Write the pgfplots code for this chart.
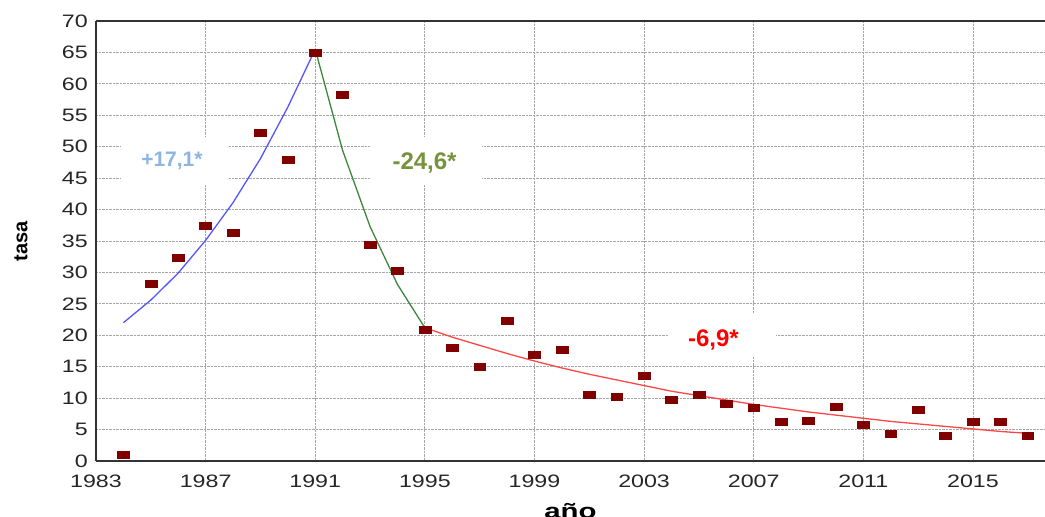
\documentclass[border=0pt]{standalone}
\usepackage{pgfplots}
\pgfplotsset{compat=1.18}
\usepackage{fontspec}
\setmainfont{Liberation Sans}
\newfontfamily\tickfont[FakeStretch=1.29]{Liberation Sans}
\newfontfamily\labfont[FakeStretch=1.4]{Liberation Sans}
\definecolor{markred}{RGB}{128,0,0}
\definecolor{lblue}{RGB}{142,180,227}
\definecolor{lgreen}{RGB}{118,146,60}
\definecolor{lineblue}{RGB}{85,85,255}
\definecolor{linegreen}{RGB}{60,135,60}
\definecolor{linered}{RGB}{255,70,70}
\begin{document}
\begin{tikzpicture}
\begin{axis}[
    scale only axis,
    width=949pt, height=440pt,
    xmin=1983, xmax=2017.63,
    ymin=0, ymax=70,
    xtick={1983,1987,...,2015},
    ytick={0,5,...,70},
    axis x line*=bottom, axis y line*=left,
    separate axis lines,
    axis line style={draw=black!80, line width=1.6pt, -},
    major tick length=0pt,
    grid=major,
    grid style={gray!70, densely dotted, line width=0.8pt},
    /pgf/number format/assume math mode=true,
    /pgf/number format/1000 sep={},
    tick label style={font=\tickfont\fontsize{18}{18}\selectfont, text=black!85, inner sep=0pt},
    xticklabel style={anchor=center, yshift=-20pt},
    yticklabel style={anchor=east, xshift=-8pt},
    xlabel={año}, ylabel={tasa},
    xlabel style={font=\labfont\bfseries\fontsize{21}{21}\selectfont,
        at={(axis description cs:0.5,0)}, anchor=center, yshift=-50pt},
    ylabel style={font=\bfseries\fontsize{20}{20}\selectfont,
        at={(axis description cs:0,0.5)}, anchor=center, yshift=75pt},
    clip=false,
]
% top border
\draw[black!80, line width=1.6pt] (axis cs:1983,70) -- (axis cs:2017.63,70);
% fitted segments
\addplot[lineblue, line width=1.3pt] coordinates {
(1984,22.0)(1985,25.6)(1986,29.9)(1987,35.1)(1988,41.1)(1989,48.1)(1990,56.3)(1991,65.5)};
\addplot[linegreen, line width=1.3pt] coordinates {
(1991,65.5)(1992,49.4)(1993,37.3)(1994,28.1)(1995,21.2)};
\addplot[linered, line width=1.3pt] coordinates {
(1995,21.2)(1996,19.7)(1997,18.4)(1998,17.1)(1999,15.9)(2000,14.8)(2001,13.8)
(2002,12.9)(2003,12.0)(2004,11.1)(2005,10.4)(2006,9.7)(2007,9.0)(2008,8.4)
(2009,7.8)(2010,7.3)(2011,6.8)(2012,6.3)(2013,5.9)(2014,5.5)(2015,5.1)
(2016,4.7)(2017,4.4)};
% observed rates
\addplot[only marks, mark=square*, mark size=3.5pt,
    mark options={xscale=1.7, fill=markred, draw=markred}] coordinates {
(1984,1.0)(1985,28.2)(1986,32.3)(1987,37.5)(1988,36.3)(1989,52.2)(1990,48.0)
(1991,65.0)(1992,58.2)(1993,34.4)(1994,30.3)(1995,20.9)(1996,18.0)(1997,15.0)
(1998,22.3)(1999,16.9)(2000,17.7)(2001,10.6)(2002,10.2)(2003,13.6)(2004,9.8)
(2005,10.5)(2006,9.1)(2007,8.5)(2008,6.3)(2009,6.4)(2010,8.6)(2011,5.8)
(2012,4.3)(2013,8.2)(2014,4.0)(2015,6.3)(2016,6.3)(2017,4.1)};
% white boxes behind the labels
\path[fill=white] (axis cs:1985.88,47.7) +(-54pt,-24pt) rectangle +(54pt,24pt);
\path[fill=white] (axis cs:1995.06,47.7) +(-56pt,-24pt) rectangle +(56pt,24pt);
\path[fill=white] (axis cs:2005.86,19.97) +(-54pt,-22pt) rectangle +(54pt,22pt);
% annual percent change labels
\node[text=lblue, font=\bfseries\fontsize{21}{21}\selectfont]
    at (axis cs:1985.77,47.7) {+17,1*};
\node[text=lgreen, font=\bfseries\fontsize{24}{24}\selectfont]
    at (axis cs:1994.99,47.4) {-24,6*};
\node[text=red, font=\bfseries\fontsize{24}{24}\selectfont]
    at (axis cs:2005.53,19.25) {-6,9*};
\end{axis}
\pgfresetboundingbox
\path[use as bounding box] (-96pt,-56pt) rectangle (949pt,461pt);
\end{tikzpicture}
\end{document}
